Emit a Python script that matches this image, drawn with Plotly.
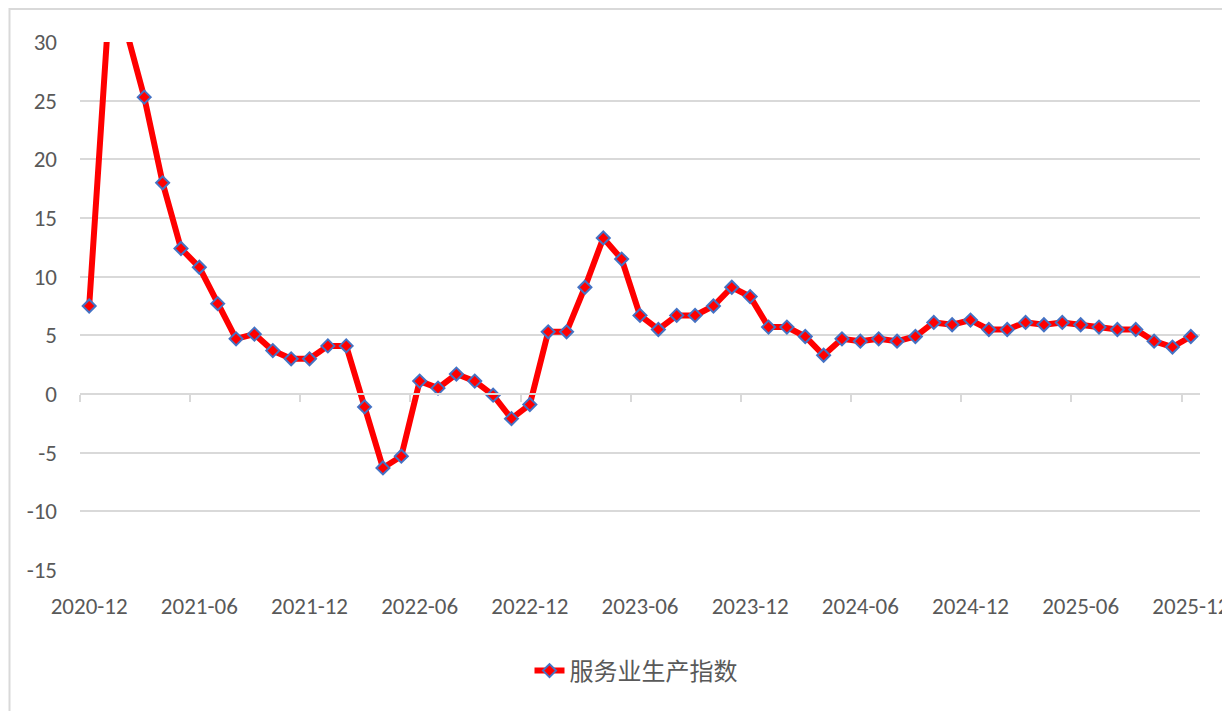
import plotly.graph_objects as go

months = [
    "2020-12",
    "2021-01", "2021-02", "2021-03", "2021-04", "2021-05", "2021-06",
    "2021-07", "2021-08", "2021-09", "2021-10", "2021-11", "2021-12",
    "2022-01", "2022-02", "2022-03", "2022-04", "2022-05", "2022-06",
    "2022-07", "2022-08", "2022-09", "2022-10", "2022-11", "2022-12",
    "2023-01", "2023-02", "2023-03", "2023-04", "2023-05", "2023-06",
    "2023-07", "2023-08", "2023-09", "2023-10", "2023-11", "2023-12",
    "2024-01", "2024-02", "2024-03", "2024-04", "2024-05", "2024-06",
    "2024-07", "2024-08", "2024-09", "2024-10", "2024-11", "2024-12",
    "2025-01", "2025-02", "2025-03", "2025-04", "2025-05", "2025-06",
    "2025-07", "2025-08", "2025-09", "2025-10", "2025-11", "2025-12",
]
values = [
    7.5,
    31.1, 31.1, 25.3, 18.0, 12.4, 10.8,
    7.7, 4.7, 5.1, 3.7, 3.0, 3.0,
    4.1, 4.1, -1.1, -6.3, -5.3, 1.1,
    0.5, 1.7, 1.1, -0.1, -2.1, -0.9,
    5.3, 5.3, 9.1, 13.3, 11.5, 6.7,
    5.5, 6.7, 6.7, 7.5, 9.1, 8.3,
    5.7, 5.7, 4.9, 3.3, 4.7, 4.5,
    4.7, 4.5, 4.9, 6.1, 5.9, 6.3,
    5.5, 5.5, 6.1, 5.9, 6.1, 5.9,
    5.7, 5.5, 5.5, 4.5, 4.0, 4.9,
]
series_name = "服务业生产指数"
y_ticks = [-15, -10, -5, 0, 5, 10, 15, 20, 25, 30]
y_tick_text = ["-15", "-10", "-5", "0", "5", "10", "15", "20", "25", "30"]
label_step = 6

idx = list(range(len(months)))
label_idx = idx[::label_step]
label_text = [months[i] for i in label_idx]
boundary_idx = [i - 0.5 for i in label_idx]

FONT = "Carlito, Calibri, 'Open Sans', sans-serif"
GRID = "#d9d9d9"
TXT = "#595959"

# page has an 8px body margin; figure coordinates are offset accordingly
L, T, PW, PH = 72, 34, 1120, 528
W, H = 1222, 703

fig = go.Figure()
fig.add_trace(go.Scatter(
    x=idx, y=values, mode="lines+markers", name=series_name,
    line=dict(color="#ff0000", width=6),
    marker=dict(symbol="diamond", size=10, color="#ff0000",
                line=dict(color="#4472c4", width=2)),
))
# helper trace so the zero-crossing category axis is drawn
fig.add_trace(go.Scatter(
    x=idx, y=values, xaxis="x2", mode="lines", opacity=0,
    showlegend=False, hoverinfo="skip",
))

ymin, ymax = y_ticks[0], y_ticks[-1]
fig.update_layout(
    width=W, height=H,
    margin=dict(l=L, r=W - L - PW, t=T, b=H - T - PH, autoexpand=False),
    paper_bgcolor="white", plot_bgcolor="white",
    font=dict(family=FONT, color=TXT, size=23),
    xaxis=dict(
        range=[-0.5, len(months) - 0.5], automargin=False,
        tickmode="array", tickvals=label_idx, ticktext=label_text,
        showgrid=False, zeroline=False, showline=False, ticks="",
        ticklabelstandoff=20, tickfont=dict(size=23, color=TXT),
    ),
    xaxis2=dict(
        overlaying="x", matches="x", anchor="free", automargin=False,
        position=(0 - ymin) / (ymax - ymin),
        range=[-0.5, len(months) - 0.5],
        tickmode="array", tickvals=boundary_idx,
        showticklabels=False, showgrid=False, zeroline=False,
        showline=True, linecolor=GRID, linewidth=2,
        ticks="outside", ticklen=7, tickwidth=2, tickcolor=GRID,
    ),
    yaxis=dict(
        range=[ymin, ymax], tickmode="array", tickvals=y_ticks,
        ticktext=y_tick_text, automargin=False,
        showgrid=True, gridcolor=GRID, gridwidth=2,
        zeroline=False, showline=False, ticks="",
        ticklabelstandoff=22, tickfont=dict(size=23, color=TXT),
    ),
    showlegend=True,
    legend=dict(
        orientation="h", xref="container", yref="container",
        x=628 / W, xanchor="center", y=1 - 663 / H, yanchor="middle",
        font=dict(family="'Noto Sans CJK SC', sans-serif", size=24, color=TXT),
        bgcolor="rgba(0,0,0,0)",
    ),
    shapes=[dict(
        type="rect", xref="paper", yref="paper",
        x0=(1.5 - L) / PW, x1=(1220 - L) / PW,
        y0=-0.3, y1=(T + PH - 1) / PH,
        line=dict(color=GRID, width=2), layer="below",
    )],
)

fig.write_html("out.html")
